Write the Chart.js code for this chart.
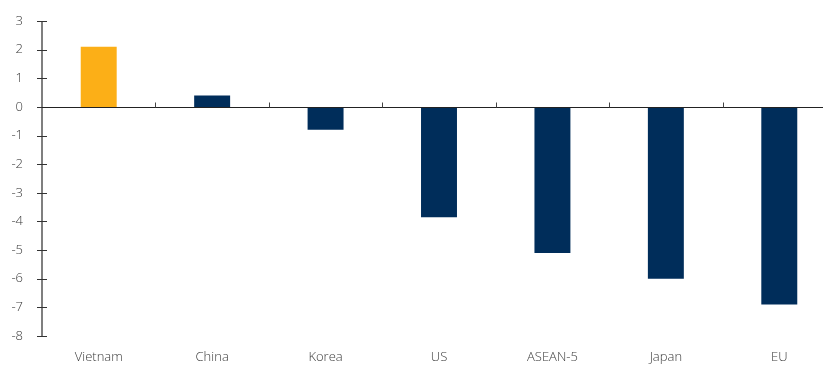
<!DOCTYPE html>
<html>
<head>
<meta charset="utf-8">
<script src="https://cdn.jsdelivr.net/npm/chart.js@4/dist/chart.umd.min.js"></script>
<style>
  html, body { margin: 0; padding: 0; background: #fff; overflow: hidden; }
  #wrap { width: 836px; height: 365px; position: relative; }
</style>
</head>
<body>
<div id="wrap"><canvas id="c"></canvas></div>
<script>
// Economies and their change values
const categories = ['Vietnam', 'China', 'Korea', 'US', 'ASEAN-5', 'Japan', 'EU'];
const values = [2.1, 0.4, -0.8, -3.85, -5.1, -6.0, -6.9];
const barColors = ['#FCAF17', '#002D5A', '#002D5A', '#002D5A', '#002D5A', '#002D5A', '#002D5A'];
const yTicks = [-8, -7, -6, -5, -4, -3, -2, -1, 0, 1, 2, 3];

const labelFont = { family: "'Open Sans', 'Noto Sans', sans-serif", size: 13, weight: 300 };

// Axis decorations: y-axis ticks crossing the axis line, zero baseline with boundary ticks
const axisDecor = {
  id: 'axisDecor',
  afterDatasetsDraw(chart) {
    const { ctx, chartArea, scales } = chart;
    const y = scales.y, x = scales.x;
    ctx.save();
    // y axis line
    ctx.strokeStyle = '#555';
    ctx.lineWidth = 1.5;
    ctx.beginPath();
    ctx.moveTo(chartArea.left, y.getPixelForValue(yTicks[yTicks.length - 1]));
    ctx.lineTo(chartArea.left, y.getPixelForValue(yTicks[0]));
    ctx.stroke();
    // y ticks across the axis
    ctx.lineWidth = 1;
    ctx.strokeStyle = '#333';
    yTicks.forEach(v => {
      const py = Math.round(y.getPixelForValue(v)) + 0.5;
      ctx.beginPath();
      ctx.moveTo(chartArea.left - 5, py);
      ctx.lineTo(chartArea.left + 5, py);
      ctx.stroke();
    });
    // zero baseline
    const y0 = Math.round(y.getPixelForValue(0)) + 0.5;
    ctx.strokeStyle = '#222';
    ctx.lineWidth = 1;
    ctx.beginPath();
    ctx.moveTo(chartArea.left, y0);
    ctx.lineTo(chartArea.right, y0);
    ctx.stroke();
    // category boundary ticks on baseline
    ctx.strokeStyle = '#444';
    for (let i = 1; i < categories.length; i++) {
      const px = Math.round((x.getPixelForValue(i - 1) + x.getPixelForValue(i)) / 2) + 0.5;
      ctx.beginPath();
      ctx.moveTo(px, y0 - 5);
      ctx.lineTo(px, y0);
      ctx.stroke();
    }
    ctx.restore();
  }
};

new Chart(document.getElementById('c'), {
  type: 'bar',
  data: {
    labels: categories,
    datasets: [{
      data: values,
      backgroundColor: barColors,
      borderWidth: 0,
      categoryPercentage: 1,
      barPercentage: 0.317
    }]
  },
  options: {
    responsive: true,
    maintainAspectRatio: false,
    animation: false,
    layout: { padding: { top: 21, left: 0, right: 0, bottom: 0 } },
    plugins: { legend: { display: false }, tooltip: { enabled: false } },
    scales: {
      x: {
        grid: { display: false, drawTicks: false },
        border: { display: false },
        ticks: { color: '#3a3a3a', font: labelFont, padding: 13, maxRotation: 0 },
        afterFit(scale) { scale.height = 29; scale.paddingLeft = 0; scale.paddingRight = 0; }
      },
      y: {
        min: -8,
        max: 3,
        grid: { display: false, drawTicks: false },
        border: { display: false },
        afterBuildTicks(scale) { scale.ticks = yTicks.map(v => ({ value: v })); },
        ticks: { color: '#3a3a3a', font: labelFont, padding: 19 },
        afterFit(scale) { scale.width = 42; scale.paddingTop = 0; scale.paddingBottom = 0; }
      }
    }
  },
  plugins: [axisDecor]
});
</script>
</body>
</html>
